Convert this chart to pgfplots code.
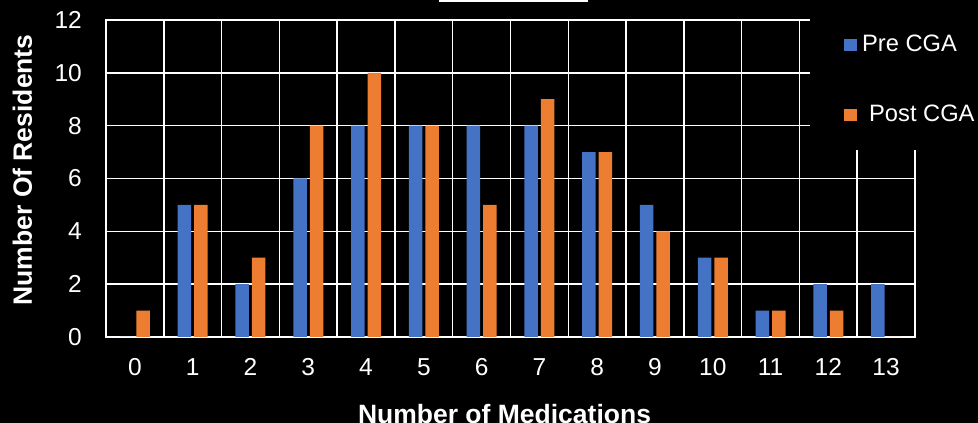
\documentclass[border=0pt]{standalone}
\usepackage{fontspec}
\setmainfont{Liberation Sans}
\usepackage{pgfplots}
\pgfplotsset{compat=1.18}
\definecolor{preblue}{HTML}{4472C4}
\definecolor{postorange}{HTML}{ED7D31}
\begin{document}
\begin{tikzpicture}
\path[use as bounding box, fill=black] (0,0) rectangle (978pt,423pt);
\begin{axis}[
  at={(106pt,86pt)}, anchor=south west,
  scale only axis, width=809pt, height=317pt,
  xmin=-0.5, xmax=13.5, ymin=0, ymax=12,
  ybar=3pt, bar width=13.5pt,
  xtick={0,...,13}, ytick={0,2,...,12},
  minor xtick={0.5,1.5,...,12.5},
  xminorgrids=true, ymajorgrids=true, xmajorgrids=false,
  major grid style={white, line width=1.5pt},
  minor grid style={white, line width=1.5pt},
  axis line style={white, line width=1.5pt},
  major tick length=0pt, minor tick length=0pt,
  tick style={draw=none},
  /pgf/number format/assume math mode=true,
  ticklabel style={font=\fontsize{24.5}{29}\selectfont, text=white, inner sep=0pt},
  yticklabel style={xshift=-24pt},
  xticklabel style={yshift=-21pt},
  xlabel={Number of Medications},
  ylabel={Number Of Residents},
  label style={font=\bfseries\fontsize{26.5}{31}\selectfont, text=white, inner sep=0pt},
  xlabel style={at={(axis description cs:0.4926,-0.2744)}, anchor=base},
  ylabel style={at={(axis description cs:-0.0915,0.527)}, anchor=base},
  legend cell align=left,
  legend style={at={(axis description cs:0.8702,0.5899)}, anchor=south west,
    fill=black, draw=none, text=white, font=\fontsize{23.7}{28}\selectfont,
    inner xsep=34pt, inner ysep=27pt, row sep=52pt, column sep=5pt,
    nodes={inner sep=0pt}},
  axis background/.style={fill=black},
]
\addplot[fill=preblue, draw=none,
  legend image code/.code={\fill[preblue] (0pt,-7pt) rectangle (13pt,5pt);}]
  coordinates {(0,0)(1,5)(2,2)(3,6)(4,8)(5,8)(6,8)(7,8)(8,7)(9,5)(10,3)(11,1)(12,2)(13,2)};
\addplot[fill=postorange, draw=none,
  legend image code/.code={\fill[postorange] (0pt,-7pt) rectangle (13pt,5pt);}]
  coordinates {(0,1)(1,5)(2,3)(3,8)(4,10)(5,8)(6,5)(7,9)(8,7)(9,4)(10,3)(11,1)(12,1)(13,0)};
\legend{Pre CGA, \hspace{7pt}Post CGA}
\end{axis}
\fill[white] (439pt,421pt) rectangle (588pt,423pt);
\end{tikzpicture}
\end{document}
